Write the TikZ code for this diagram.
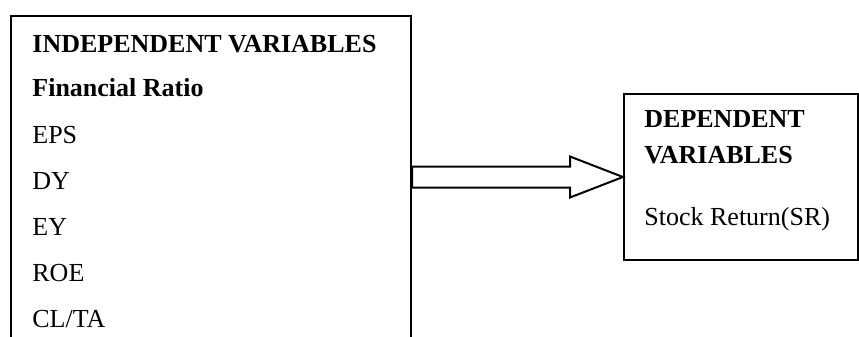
\documentclass[tikz,border=0pt]{standalone}
\usepackage{fontspec}
\setmainfont{Liberation Serif}
\usepackage{tikz}
\usetikzlibrary{calc}

\tikzset{
  varbox/.style={draw=black, line width=1pt, anchor=north west, inner sep=0pt},
  vartext/.style={anchor=base west, inner sep=0pt, font=\fontsize{13}{15}\selectfont},
  varhead/.style={vartext, font=\fontsize{13}{15}\selectfont\bfseries},
  arrowline/.style={draw=black, line width=1pt, fill=white, line join=miter}
}

\begin{document}
\begin{tikzpicture}[x=0.5pt, y=-0.5pt]
    \useasboundingbox (0,0) rectangle (859,337);
    \clip (0,0) rectangle (859,337);
    % boxes
    \node[varbox, minimum width=200pt, minimum height=175pt] (indep) at (10,15) {};
    \node[varbox, minimum width=117pt, minimum height=83pt] (dep) at (623,93) {};
    % independent side
    \node[varhead] (indepTitle) at (32,53) {INDEPENDENT VARIABLES};
    \node[varhead] (ratioTitle) at (32,97) {Financial Ratio};
    \foreach \ratio [count=\i] in {EPS, DY, EY, ROE, CL/TA}
        \node[vartext] (ratio\i) at (32,{143+(\i-1)*46.25}) {\ratio};
    % dependent side
    \node[varhead] (depTitleA) at (644,127) {DEPENDENT};
    \node[varhead] (depTitleB) at (644,163) {VARIABLES};
    \node[vartext] (stockReturn) at (644,225) {Stock Return(SR)};
    % block arrow
    \coordinate (tip) at (dep.west);
    \coordinate (tail) at (indep.east |- dep.west);
    \draw[arrowline] ($(tail)+(0,-10.5)$) -- ($(tip)+(-53,-10.5)$) -- ($(tip)+(-53,-20.5)$)
        -- (tip) -- ($(tip)+(-53,20.5)$) -- ($(tip)+(-53,10.5)$) -- ($(tail)+(0,10.5)$) -- cycle;
\end{tikzpicture}
\end{document}
